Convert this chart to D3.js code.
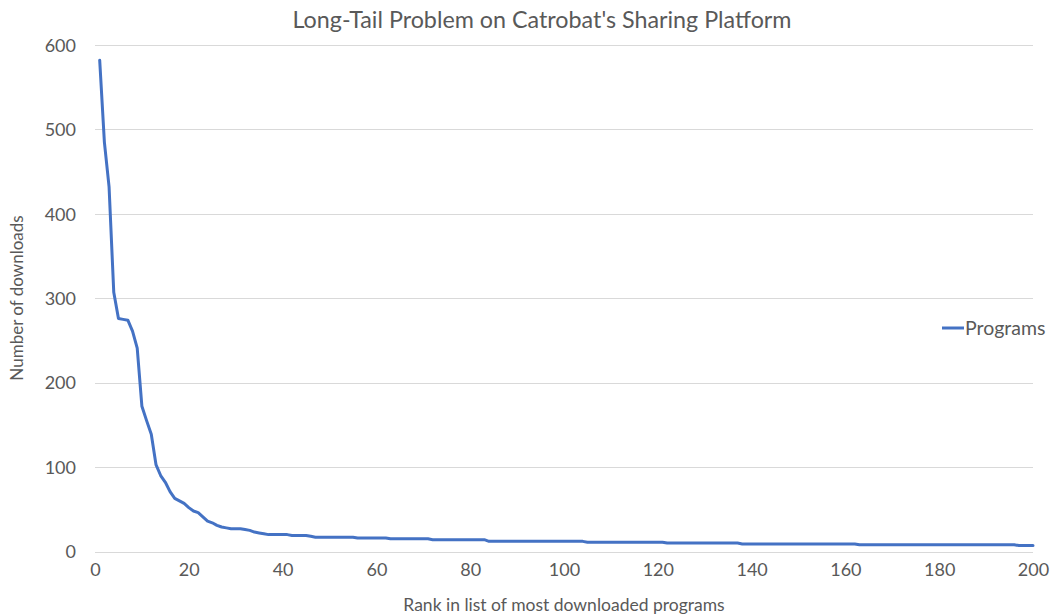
<!DOCTYPE html>
<html>
<head>
<meta charset="utf-8">
<script src="https://cdn.jsdelivr.net/npm/d3@7"></script>
<style>
  html, body { margin: 0; padding: 0; background: #ffffff; }
  svg { display: block; }
  text { font-family: "Lato", "Open Sans", sans-serif; fill: #595959; }
</style>
</head>
<body>
<svg id="chart" width="1050" height="615"></svg>
<script>
// Download counts of the 200 most downloaded programs, in rank order
const downloads = [
  582, 485, 432, 307, 276, 275, 274, 261, 241, 172,
  155, 139, 103, 90, 82, 71, 63, 60, 57, 52,
  48, 46, 41, 36, 34, 31, 29, 28, 27, 27,
  27, 26, 25, 23, 22, 21, 20, 20, 20, 20,
  20, 19, 19, 19, 19, 18, 17, 17, 17, 17,
  17, 17, 17, 17, 17, 16, 16, 16, 16, 16,
  16, 16, 15, 15, 15, 15, 15, 15, 15, 15,
  15, 14, 14, 14, 14, 14, 14, 14, 14, 14,
  14, 14, 14, 12, 12, 12, 12, 12, 12, 12,
  12, 12, 12, 12, 12, 12, 12, 12, 12, 12,
  12, 12, 12, 12, 11, 11, 11, 11, 11, 11,
  11, 11, 11, 11, 11, 11, 11, 11, 11, 11,
  11, 10, 10, 10, 10, 10, 10, 10, 10, 10,
  10, 10, 10, 10, 10, 10, 10, 9, 9, 9,
  9, 9, 9, 9, 9, 9, 9, 9, 9, 9,
  9, 9, 9, 9, 9, 9, 9, 9, 9, 9,
  9, 9, 8, 8, 8, 8, 8, 8, 8, 8,
  8, 8, 8, 8, 8, 8, 8, 8, 8, 8,
  8, 8, 8, 8, 8, 8, 8, 8, 8, 8,
  8, 8, 8, 8, 8, 8, 7, 7, 7, 7
];
const ranks = downloads.map((_, i) => i + 1);

const xTicks = [0, 20, 40, 60, 80, 100, 120, 140, 160, 180, 200];
const yTicks = [0, 100, 200, 300, 400, 500, 600];

const seriesName = "Programs";
const chartTitle = "Long-Tail Problem on Catrobat's Sharing Platform";
const xTitle = "Rank in list of most downloaded programs";
const yTitle = "Number of downloads";

const svg = d3.select("#chart");
const plot = { left: 95, right: 1033, top: 45, bottom: 551.5 };

const x = d3.scaleLinear().domain([0, 200]).range([plot.left, plot.right]);
const y = d3.scaleLinear().domain([0, 600]).range([plot.bottom, plot.top]);

// Horizontal gridlines
svg.append("g")
  .selectAll("line")
  .data(yTicks)
  .join("line")
  .attr("x1", plot.left)
  .attr("x2", plot.right)
  .attr("y1", d => Math.round(y(d)) + 0.5)
  .attr("y2", d => Math.round(y(d)) + 0.5)
  .attr("stroke", "#d9d9d9")
  .attr("stroke-width", 1);

// Y axis tick labels
const yAxis = svg.append("g")
  .attr("transform", `translate(${plot.left - 19},0)`)
  .call(d3.axisLeft(y).tickValues(yTicks).tickSize(0).tickPadding(0));
yAxis.select(".domain").remove();
yAxis.selectAll("text")
  .attr("font-size", 18)
  .attr("font-family", "Lato, 'Open Sans', sans-serif")
  .attr("fill", "#595959")
  .attr("dy", "0.35em");

// X axis tick labels
const xAxis = svg.append("g")
  .attr("transform", `translate(0,${plot.bottom + 18})`)
  .call(d3.axisBottom(x).tickValues(xTicks).tickSize(0).tickPadding(0));
xAxis.select(".domain").remove();
xAxis.selectAll("text")
  .attr("font-size", 18)
  .attr("font-family", "Lato, 'Open Sans', sans-serif")
  .attr("fill", "#595959")
  .attr("dy", "0.35em");

// Series line
const line = d3.line()
  .x((d, i) => x(ranks[i]))
  .y(d => y(d));

svg.append("path")
  .datum(downloads)
  .attr("d", line)
  .attr("fill", "none")
  .attr("stroke", "#4472c4")
  .attr("stroke-width", 3)
  .attr("stroke-linejoin", "round")
  .attr("stroke-linecap", "round");

// Title
svg.append("text")
  .attr("x", 542)
  .attr("y", 28)
  .attr("text-anchor", "middle")
  .attr("font-size", 23.3)
  .text(chartTitle);

// Axis titles
svg.append("text")
  .attr("x", 564)
  .attr("y", 611)
  .attr("text-anchor", "middle")
  .attr("font-size", 17.5)
  .text(xTitle);

svg.append("text")
  .attr("transform", "translate(23,298) rotate(-90)")
  .attr("text-anchor", "middle")
  .attr("font-size", 17)
  .text(yTitle);

// Legend
const legend = svg.append("g").attr("transform", "translate(942,328)");
legend.append("line")
  .attr("x1", 0).attr("x2", 22)
  .attr("y1", 0).attr("y2", 0)
  .attr("stroke", "#4472c4")
  .attr("stroke-width", 3);
legend.append("text")
  .attr("x", 23)
  .attr("y", 0)
  .attr("dy", "0.35em")
  .attr("font-size", 19.5)
  .text(seriesName);
</script>
</body>
</html>
